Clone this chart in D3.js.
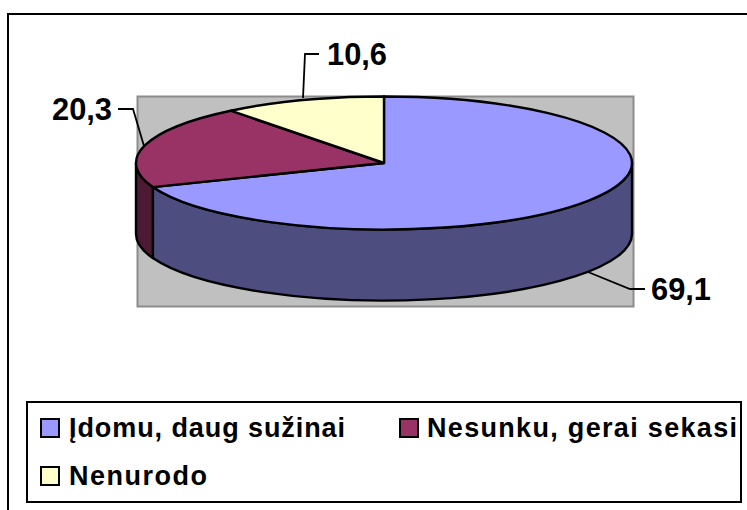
<!DOCTYPE html>
<html><head><meta charset="utf-8"><script src="https://cdn.jsdelivr.net/npm/d3@7"></script>
<style>html,body{margin:0;padding:0;background:#fff}svg{display:block}text{font-family:"Liberation Sans",Arial,sans-serif;font-weight:bold;fill:#000}</style></head>
<body><script>
const categories = ["Įdomu, daug sužinai", "Nesunku, gerai sekasi", "Nenurodo"];
const values = [69.1, 20.3, 10.6];
const valueLabels = ["69,1", "20,3", "10,6"];
const topColors = ["#9999ff", "#993366", "#ffffcc"];
const sideColors = ["#4d4d80", "#4d1a33", "#808066"];

const svg = d3.select("body").append("svg").attr("width", 747).attr("height", 510);
svg.append("path").attr("d", "M8,510V14H747").attr("fill", "none").attr("stroke", "#000").attr("stroke-width", 2);
svg.append("rect").attr("x", 137.5).attr("y", 96.5).attr("width", 496).attr("height", 210)
  .attr("fill", "#c0c0c0").attr("stroke", "#8c8c8c").attr("stroke-width", 2);

const cx = 384, cy = 163, rx = 248, ry = 66.5, depth = 71;
const pts = d3.pie().sort(null)(values);
const px = a => cx + rx * Math.sin(a), py = a => cy - ry * Math.cos(a);
const g = svg.append("g").attr("stroke", "#000").attr("stroke-width", 2.4).attr("stroke-linejoin", "round");

pts.forEach((p, i) => {
  const a0 = Math.max(p.startAngle, Math.PI / 2), a1 = Math.min(p.endAngle, Math.PI * 1.5);
  if (a1 <= a0) return;
  g.append("path").attr("fill", sideColors[i]).attr("d",
    `M${px(a0)},${py(a0)}A${rx},${ry} 0 0 1 ${px(a1)},${py(a1)}L${px(a1)},${py(a1)+depth}A${rx},${ry} 0 0 0 ${px(a0)},${py(a0)+depth}Z`);
});
pts.forEach((p, i) => {
  const large = p.endAngle - p.startAngle > Math.PI ? 1 : 0;
  g.append("path").attr("fill", topColors[i]).attr("d",
    `M${cx},${cy}L${px(p.startAngle)},${py(p.startAngle)}A${rx},${ry} 0 ${large} 1 ${px(p.endAngle)},${py(p.endAngle)}Z`);
});

const leaders = [
  {d:"M588,272L630,289H645", x:651, y:300},
  {d:"M144,146L133,109H118", x:52, y:120},
  {d:"M303,98L305,54H319", x:327, y:65}
];
leaders.forEach((l, i) => {
  svg.append("path").attr("d", l.d).attr("fill", "none").attr("stroke", "#000").attr("stroke-width", 1.8);
  svg.append("text").attr("x", l.x).attr("y", l.y).attr("font-size", 31)
    .attr("textLength", 60).attr("lengthAdjust", "spacingAndGlyphs").text(valueLabels[i]);
});

svg.append("rect").attr("x", 27).attr("y", 402).attr("width", 714).attr("height", 100).attr("fill", "#fff").attr("stroke", "#000").attr("stroke-width", 2);
const legendPos = [{x:41,y:428,tx:69,w:276},{x:400,y:428,tx:427,w:310},{x:41,y:476,tx:69,w:138}];
categories.forEach((c, i) => {
  svg.append("rect").attr("x", legendPos[i].x).attr("y", legendPos[i].y-9).attr("width", 18).attr("height", 18)
    .attr("fill", topColors[i]).attr("stroke", "#000").attr("stroke-width", 2);
  svg.append("text").attr("x", legendPos[i].tx).attr("y", legendPos[i].y+9).attr("font-size", 27)
    .attr("textLength", legendPos[i].w).attr("lengthAdjust", "spacing").text(c);
});
</script></body></html>
